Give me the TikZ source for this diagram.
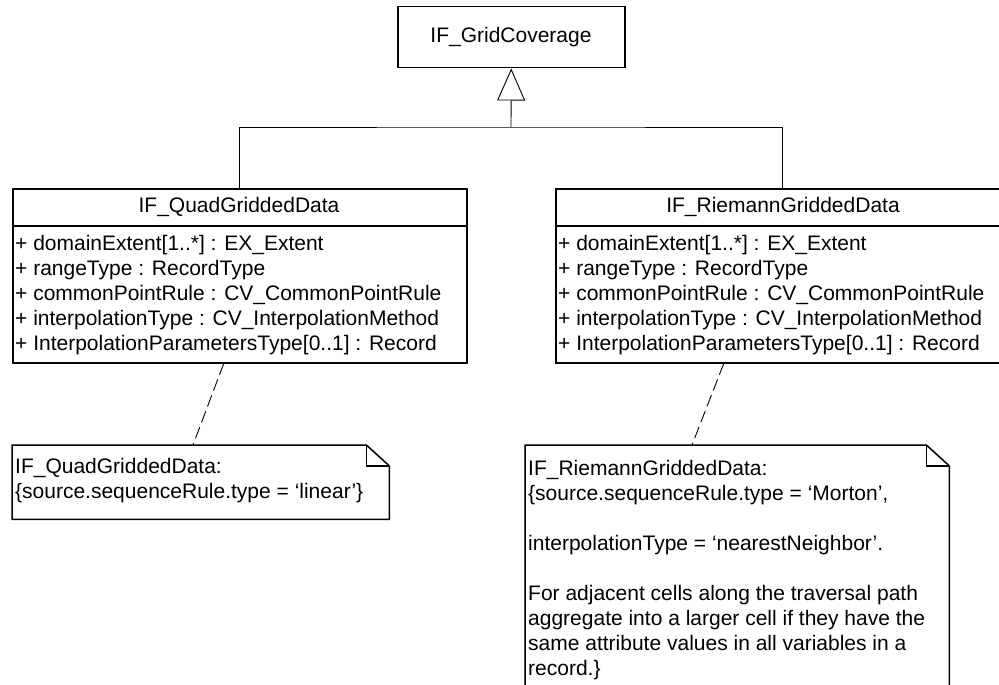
\documentclass[tikz,border=0pt]{standalone}
\usepackage{fontspec}
\setmainfont{Liberation Sans}
\usetikzlibrary{arrows.meta}
\begin{document}
\begin{tikzpicture}[x=1pt,y=-1pt,
  box/.style={draw, line width=1.5pt, inner sep=0pt, anchor=north west},
  sepline/.style={line width=1.5pt},
  lbl/.style={inner sep=0pt, font=\fontsize{21}{25}\selectfont},
  attr/.style={lbl, anchor=base west},
  ttl/.style={lbl, anchor=base},
  conn/.style={line width=0.9pt},
  noteline/.style={conn, dash pattern=on 12pt off 5pt},
  gen/.style={conn, -{Triangle[open, length=32pt, width=28pt, line width=0.9pt]}},
  notebody/.style={line width=1.5pt, line join=miter},
]
\useasboundingbox (0,0) rectangle (999,685);
\clip (0,0) rectangle (999,685);

% superclass
\node[box, minimum width=227pt, minimum height=61pt] (gc) at (397,6) {};
\node[ttl] (gct) at (511,43) {IF\_GridCoverage};

% IF_QuadGriddedData
\node[box, minimum width=454pt, minimum height=174pt] (quad) at (12,188) {};
\draw[sepline] ([yshift=-38pt]quad.north west) -- ([yshift=-38pt]quad.north east);
\node[ttl] (quadt) at (239,212) {IF\_QuadGriddedData};
\node[attr] (qa1) at (15,250) {+ domainExtent[1..*] : EX\_Extent};
\node[attr] (qa2) at (15,275) {+ rangeType : RecordType};
\node[attr] (qa3) at (15,300) {+ commonPointRule : CV\_CommonPointRule};
\node[attr] (qa4) at (15,325) {+ interpolationType : CV\_InterpolationMethod};
\node[attr] (qa5) at (15,350) {+ InterpolationParametersType[0..1] : Record};

% IF_RiemannGriddedData
\node[box, minimum width=454pt, minimum height=174pt] (riem) at (555,188) {};
\draw[sepline] ([yshift=-38pt]riem.north west) -- ([yshift=-38pt]riem.north east);
\node[ttl] (riemt) at (783,212) {IF\_RiemannGriddedData};
\node[attr] (ra1) at (558,250) {+ domainExtent[1..*] : EX\_Extent};
\node[attr] (ra2) at (558,275) {+ rangeType : RecordType};
\node[attr] (ra3) at (558,300) {+ commonPointRule : CV\_CommonPointRule};
\node[attr] (ra4) at (558,325) {+ interpolationType : CV\_InterpolationMethod};
\node[attr] (ra5) at (558,350) {+ InterpolationParametersType[0..1] : Record};

% generalization
\coordinate (j) at (511,127);
\draw[conn] (quad.north) |- (j) -| (riem.north);
\draw[gen] (j) -- (gc.south);

% notes
\path node[anchor=north west, inner sep=0pt, minimum width=377pt, minimum height=74pt] (qnote) at (12,445) {};
\draw[notebody] (qnote.north west) -- ([xshift=-23pt]qnote.north east)
  -- ([yshift=-21pt]qnote.north east) -- (qnote.south east)
  -- (qnote.south west) -- cycle;
\draw[notebody] ([xshift=-23pt]qnote.north east) -- ([xshift=-23pt,yshift=-21pt]qnote.north east)
  -- ([yshift=-21pt]qnote.north east);
\node[attr] (qn1) at (15,473) {IF\_QuadGriddedData:};
\node[attr] (qn2) at (15,498) {\{source.sequenceRule.type = ‘linear’\}};

\path node[anchor=north west, inner sep=0pt, minimum width=424pt, minimum height=260pt] (rnote) at (525,445) {};
\draw[notebody] (rnote.north west) -- ([xshift=-23pt]rnote.north east)
  -- ([yshift=-21pt]rnote.north east) -- (rnote.south east)
  -- (rnote.south west) -- cycle;
\draw[notebody] ([xshift=-23pt]rnote.north east) -- ([xshift=-23pt,yshift=-21pt]rnote.north east)
  -- ([yshift=-21pt]rnote.north east);
\node[attr] (rn1) at (528,475) {IF\_RiemannGriddedData:};
\node[attr] (rn2) at (528,500) {\{source.sequenceRule.type = ‘Morton’,};
\node[attr] (rn3) at (528,550) {interpolationType = ‘nearestNeighbor’.};
\node[attr] (rn4) at (528,600) {For adjacent cells along the traversal path};
\node[attr] (rn5) at (528,625) {aggregate into a larger cell if they have the};
\node[attr] (rn6) at (528,650) {same attribute values in all variables in a};
\node[attr] (rn7) at (528,675) {record.\}};

% note anchors
\draw[noteline] ([xshift=-16pt]quad.south) -- ([xshift=181pt]qnote.north west);
\draw[noteline] ([xshift=-59pt]riem.south) -- ([xshift=167pt]rnote.north west);
\end{tikzpicture}
\end{document}
